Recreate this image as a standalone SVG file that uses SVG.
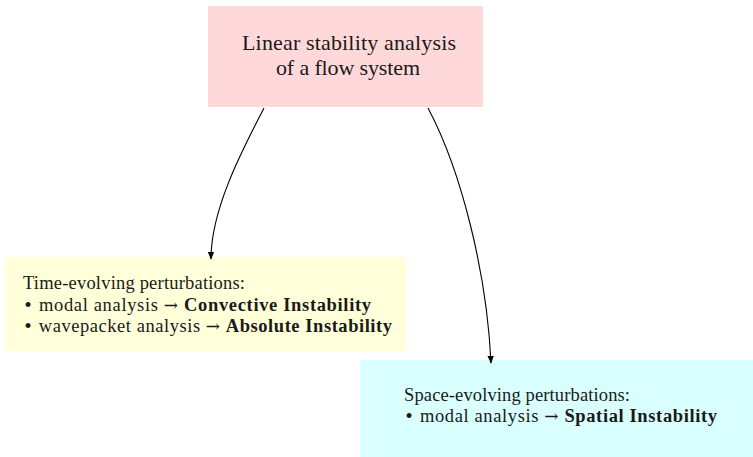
<svg xmlns="http://www.w3.org/2000/svg" width="753" height="457" viewBox="0 0 753 457">
<defs>
<style>
text{font-family:"Liberation Serif","DejaVu Serif",serif;fill:#1a1a1a}
.t{font-size:22px}
.b{font-size:18.5px}
.bold{font-weight:bold}
.sym{font-family:"DejaVu Serif",serif;font-size:17px}
.edge{fill:none;stroke:#000;stroke-width:1.1}
</style>
<marker id="ah" viewBox="0 0 10 10" refX="9" refY="5" markerWidth="8" markerHeight="8" markerUnits="userSpaceOnUse" orient="auto">
<path d="M0,1 L10,5 L0,9 Z" fill="#000"/>
</marker>
</defs>
<rect width="753" height="457" fill="#fff"/>
<g id="root">
<rect x="208" y="6" width="275" height="101" fill="#ffd9d9"/>
<text class="t" x="349" y="50" text-anchor="middle" textLength="214" lengthAdjust="spacing">Linear stability analysis</text>
<text class="t" x="348" y="75" text-anchor="middle" textLength="144" lengthAdjust="spacing">of a flow system</text>
</g>
<g id="temporal">
<rect x="5" y="257" width="401" height="94" fill="#ffffd9"/>
<text class="b" x="23" y="289" textLength="222" lengthAdjust="spacing">Time-evolving perturbations:</text>
<text class="b" x="23" y="311" textLength="348" lengthAdjust="spacing"><tspan class="sym">•</tspan> modal analysis <tspan class="sym">→</tspan> <tspan class="bold">Convective Instability</tspan></text>
<text class="b" x="23" y="332" textLength="369" lengthAdjust="spacing"><tspan class="sym">•</tspan> wavepacket analysis <tspan class="sym">→</tspan> <tspan class="bold">Absolute Instability</tspan></text>
</g>
<g id="spatial">
<rect x="360" y="360" width="393" height="97" fill="#d9ffff"/>
<text class="b" x="404" y="401" textLength="226" lengthAdjust="spacing">Space-evolving perturbations:</text>
<text class="b" x="404" y="422" textLength="313" lengthAdjust="spacing"><tspan class="sym">•</tspan> modal analysis <tspan class="sym">→</tspan> <tspan class="bold">Spatial Instability</tspan></text>
</g>
<g id="connectors">
<path class="edge" d="M264,108 C238,158 211,212 211,259" marker-end="url(#ah)"/>
<path class="edge" d="M428,108 C462,172 487,275 491,363" marker-end="url(#ah)"/>
</g>
</svg>
